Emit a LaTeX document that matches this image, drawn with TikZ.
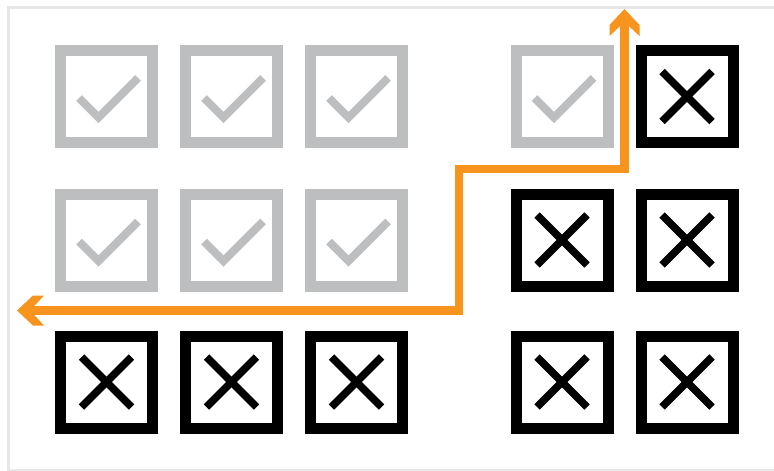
\documentclass[tikz,border=0pt]{standalone}
\usetikzlibrary{arrows.meta}
\definecolor{frame}{HTML}{E6E7E8}
\definecolor{okgray}{HTML}{BCBEC0}
\definecolor{route}{HTML}{F7941E}
\pgfdeclarearrow{
  name = Chevron,
  setup code = {
    \pgfarrowssettipend{0pt}
    \pgfarrowssetbackend{-27pt}
    \pgfarrowssetlineend{-15pt}
    \pgfarrowshullpoint{0pt}{0pt}
    \pgfarrowshullpoint{-27pt}{15pt}
    \pgfarrowshullpoint{-27pt}{-15pt}
  },
  drawing code = {
    \pgfpathmoveto{\pgfpoint{0pt}{0pt}}
    \pgfpathlineto{\pgfpoint{-16pt}{15pt}}
    \pgfpathlineto{\pgfpoint{-27pt}{15pt}}
    \pgfpathlineto{\pgfpoint{-17pt}{4.25pt}}
    \pgfpathlineto{\pgfpoint{-17pt}{-4.25pt}}
    \pgfpathlineto{\pgfpoint{-27pt}{-15pt}}
    \pgfpathlineto{\pgfpoint{-16pt}{-15pt}}
    \pgfpathclose
    \pgfusepathqfill
  }
}
\begin{document}
\begin{tikzpicture}[x=1pt,y=-1pt,
  okbox/.style={draw=okgray,line width=11pt,minimum size=92pt,inner sep=0pt,fill=white},
  nobox/.style={draw=black,line width=11pt,minimum size=92pt,inner sep=0pt,fill=white},
  tick/.style={draw=okgray,line width=8pt,line cap=butt,line join=miter},
  cross/.style={draw=black,line width=7.5pt,line cap=butt},
  routeline/.style={draw=route,fill=route,line width=8.5pt,line join=miter,arrows={Chevron-Chevron}}]
\useasboundingbox (0,0) rectangle (774,471);
\fill[white] (0,0) rectangle (774,471);
\draw[frame,line width=2.5pt] (774,7.5) -- (8.5,7.5) -- (8.5,470) -- (774,470);
% grid of boxes
\foreach \n/\x/\y/\k in {a1/106.5/96.5/ok, a2/231.5/96.5/ok, a3/356.5/96.5/ok, a4/562/96.5/ok, a5/687/96.5/no,
                        b1/106.5/240/ok, b2/231.5/240/ok, b3/356.5/240/ok, b4/562/240/no, b5/687/240/no,
                        c1/106.5/382/no, c2/231.5/382/no, c3/356.5/382/no, c4/562/382/no, c5/687/382/no}{
  \node[\k box] (\n) at (\x,\y) {};
}
\foreach \n in {a1,a2,a3,a4,b1,b2,b3}{
  \draw[tick] ([shift={(-27.5,1.5)}]\n.center) -- ([shift={(-8,21)}]\n.center) -- ([shift={(31.5,-18.5)}]\n.center);
}
\foreach \n in {a5,b4,b5,c1,c2,c3,c4,c5}{
  \draw[cross] ([shift={(-25,-25)}]\n.center) -- ([shift={(25,25)}]\n.center);
  \draw[cross] ([shift={(-25,25)}]\n.center) -- ([shift={(25,-25)}]\n.center);
}
% orange route
\coordinate (start) at (17,310.5);
\coordinate (turn1) at (459,310.5);
\coordinate (turn2) at (459,169);
\coordinate (turn3) at (624.5,169);
\coordinate (finish) at (624.5,9);
\draw[routeline,fill=none] (start) -- (turn1) -- (turn2) -- (turn3) -- (finish);
\end{tikzpicture}
\end{document}
